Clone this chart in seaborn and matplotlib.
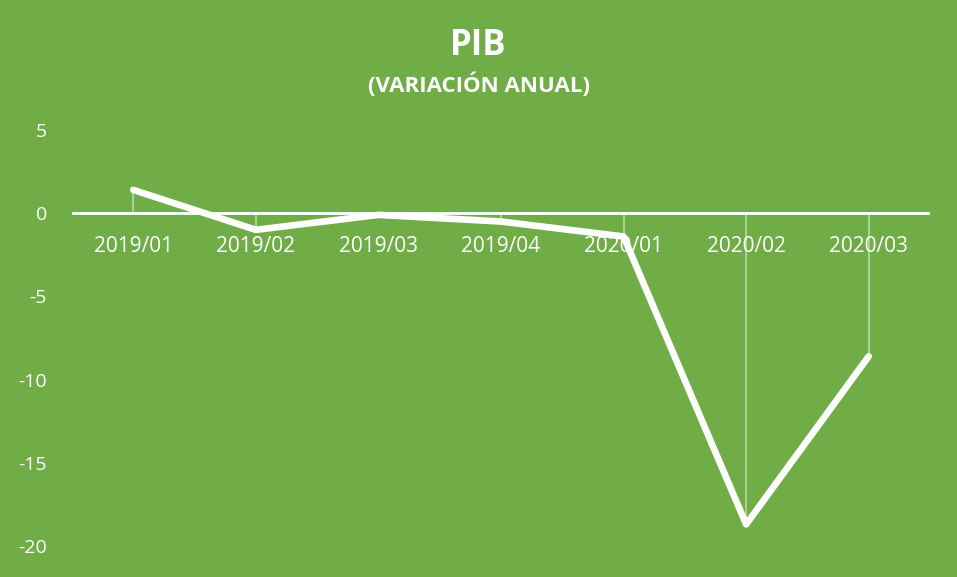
import matplotlib
matplotlib.use("Agg")
import matplotlib.pyplot as plt
import matplotlib.transforms as mtransforms
import seaborn as sns
import pandas as pd

# Datos
periodos = ["2019/01", "2019/02", "2019/03", "2019/04", "2020/01", "2020/02", "2020/03"]
pib = [1.4, -1.0, -0.1, -0.5, -1.4, -18.7, -8.6]
y_ticks = [5, 0, -5, -10, -15, -20]

verde = "#70AD47"

df = pd.DataFrame({"periodo": periodos, "pib": pib})
df["pos"] = range(len(df))

sns.set_theme(style="white")
plt.rcParams["font.family"] = ["Open Sans", "DejaVu Sans"]

fig = plt.figure(figsize=(9.57, 5.77), dpi=100, facecolor=verde)
ax = fig.add_axes([72 / 957, 1 - 546 / 577, 858 / 957, 416 / 577])
ax.set_facecolor(verde)

# lineas verticales desde el eje hasta cada punto
ax.vlines(df["pos"], 0, df["pib"], color="white", lw=1.2, alpha=0.5, zorder=1)
ax.axhline(0, color="white", lw=2, zorder=2)

sns.lineplot(data=df, x="pos", y="pib", color="white", lw=4.8, ax=ax,
             solid_capstyle="round", solid_joinstyle="round", zorder=3)

ax.set_xlim(-0.5, len(periodos) - 0.5)
ax.set_ylim(-20, 5)
ax.set_yticks(y_ticks)
ax.set_yticklabels([str(v) for v in y_ticks], color="white", fontsize=14)
ax.tick_params(axis="y", length=0, pad=18)
ax.set_xticks([])
ax.set_xlabel("")
ax.set_ylabel("")
for s in ax.spines.values():
    s.set_visible(False)

# etiquetas de categoria bajo el eje en 0
off = mtransforms.offset_copy(ax.transData, fig=fig, x=0, y=-33, units="dots")
for i, p in enumerate(periodos):
    ax.text(i, 0, p, transform=off, ha="center", va="center",
            color="white", fontsize=15)

fig.text(0.5, 1 - 46 / 577, "PIB", ha="center", va="center",
         color="white", fontsize=25, fontweight="bold")
fig.text(0.5, 1 - 85 / 577, "(VARIACIÓN ANUAL)", ha="center", va="center",
         color="white", fontsize=16, fontweight="bold")

fig.savefig("out.png", dpi=100, facecolor=verde)
